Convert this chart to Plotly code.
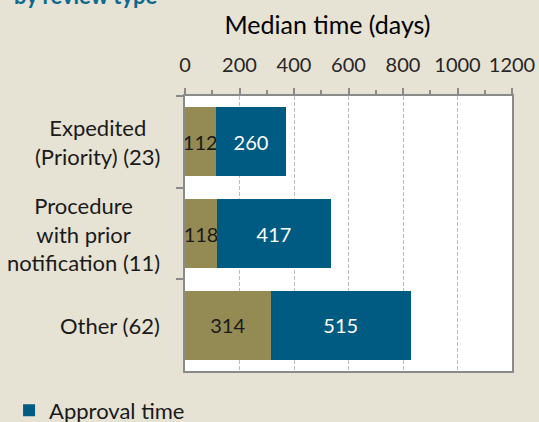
import plotly.graph_objects as go

categories = ["Expedited<br>(Priority) (23)", "Procedure<br>with prior<br>notification (11)", "Other (62)"]
clock_stop = [112, 118, 314]
approval_time = [260, 417, 515]
tick_vals = [0, 200, 400, 600, 800, 1000, 1200]

BG = "#E6E2D4"
OLIVE = "#948A54"
BLUE = "#005B82"
AXIS = "#8A8A8A"
FONT = "Lato"

fig = go.Figure()
fig.add_trace(go.Bar(
    y=categories, x=clock_stop, orientation="h", name="Clock-stop time",
    marker=dict(color=OLIVE, line=dict(width=0)),
    text=[str(v) for v in clock_stop], textposition="inside",
    insidetextanchor="middle", textangle=0, constraintext="none",
    insidetextfont=dict(family=FONT, size=20, color="#1a1a1a"),
    showlegend=False, cliponaxis=False,
))
fig.add_trace(go.Bar(
    y=categories, x=approval_time, orientation="h", name="Approval time",
    marker=dict(color=BLUE, line=dict(width=0)),
    text=[str(v) for v in approval_time], textposition="inside",
    insidetextanchor="middle", textangle=0, constraintext="none",
    insidetextfont=dict(family=FONT, size=20, color="white"),
    showlegend=True,
))

for c in categories:
    fig.add_annotation(
        xref="paper", yref="y", x=0, y=c, text=c, showarrow=False,
        xanchor="right", yanchor="middle", align="center", xshift=-23,
        font=dict(family=FONT, size=22, color="#1a1a1a"),
    )

fig.add_annotation(
    xref="paper", yref="paper", x=-0.53, y=1.31, text="<b>by review type</b>",
    showarrow=False, xanchor="left", yanchor="bottom",
    font=dict(family=FONT, size=22, color="#0B6A8E"),
)

fig.update_layout(
    width=539, height=422,
    paper_bgcolor=BG, plot_bgcolor="white",
    barmode="stack", bargap=0.25,
    margin=dict(l=185, r=27, t=96, b=51, autoexpand=False),
    title=dict(text="Median time (days)", xref="container", yref="container",
               x=0.6076, y=0.9408, xanchor="center", yanchor="middle",
               font=dict(family=FONT, size=25, color="#000000")),
    legend=dict(x=-0.538, xanchor="left", y=-0.143, yanchor="middle",
                bgcolor="rgba(0,0,0,0)",
                font=dict(family=FONT, size=22, color="#1a1a1a")),
    font=dict(family=FONT),
)

fig.update_xaxes(
    side="top", range=[0, 1200], tickvals=tick_vals,
    ticktext=[str(v) for v in tick_vals],
    tickfont=dict(family=FONT, size=20, color="#262626"),
    ticks="outside", ticklen=6, tickwidth=1.5, tickcolor=AXIS,
    ticklabelstandoff=8,
    minor=dict(ticks="outside", dtick=100, tick0=0, ticklen=4, tickwidth=1.5,
               tickcolor=AXIS, showgrid=False),
    showgrid=True, gridcolor="#BDBDBD", gridwidth=1.4, griddash="4px,2px",
    showline=True, linecolor=AXIS, linewidth=2, mirror=True,
    zeroline=False,
)
fig.update_yaxes(
    autorange="reversed", showticklabels=False,
    ticks="outside", tickson="boundaries", ticklen=7, tickwidth=1.5, tickcolor=AXIS,
    showline=True, linecolor=AXIS, linewidth=2, mirror=True,
    showgrid=False,
)

fig.write_html(
    "out.html",
    config={"displayModeBar": False},
    post_script="document.body.style.margin='0';document.body.style.background='#E6E2D4';",
)
